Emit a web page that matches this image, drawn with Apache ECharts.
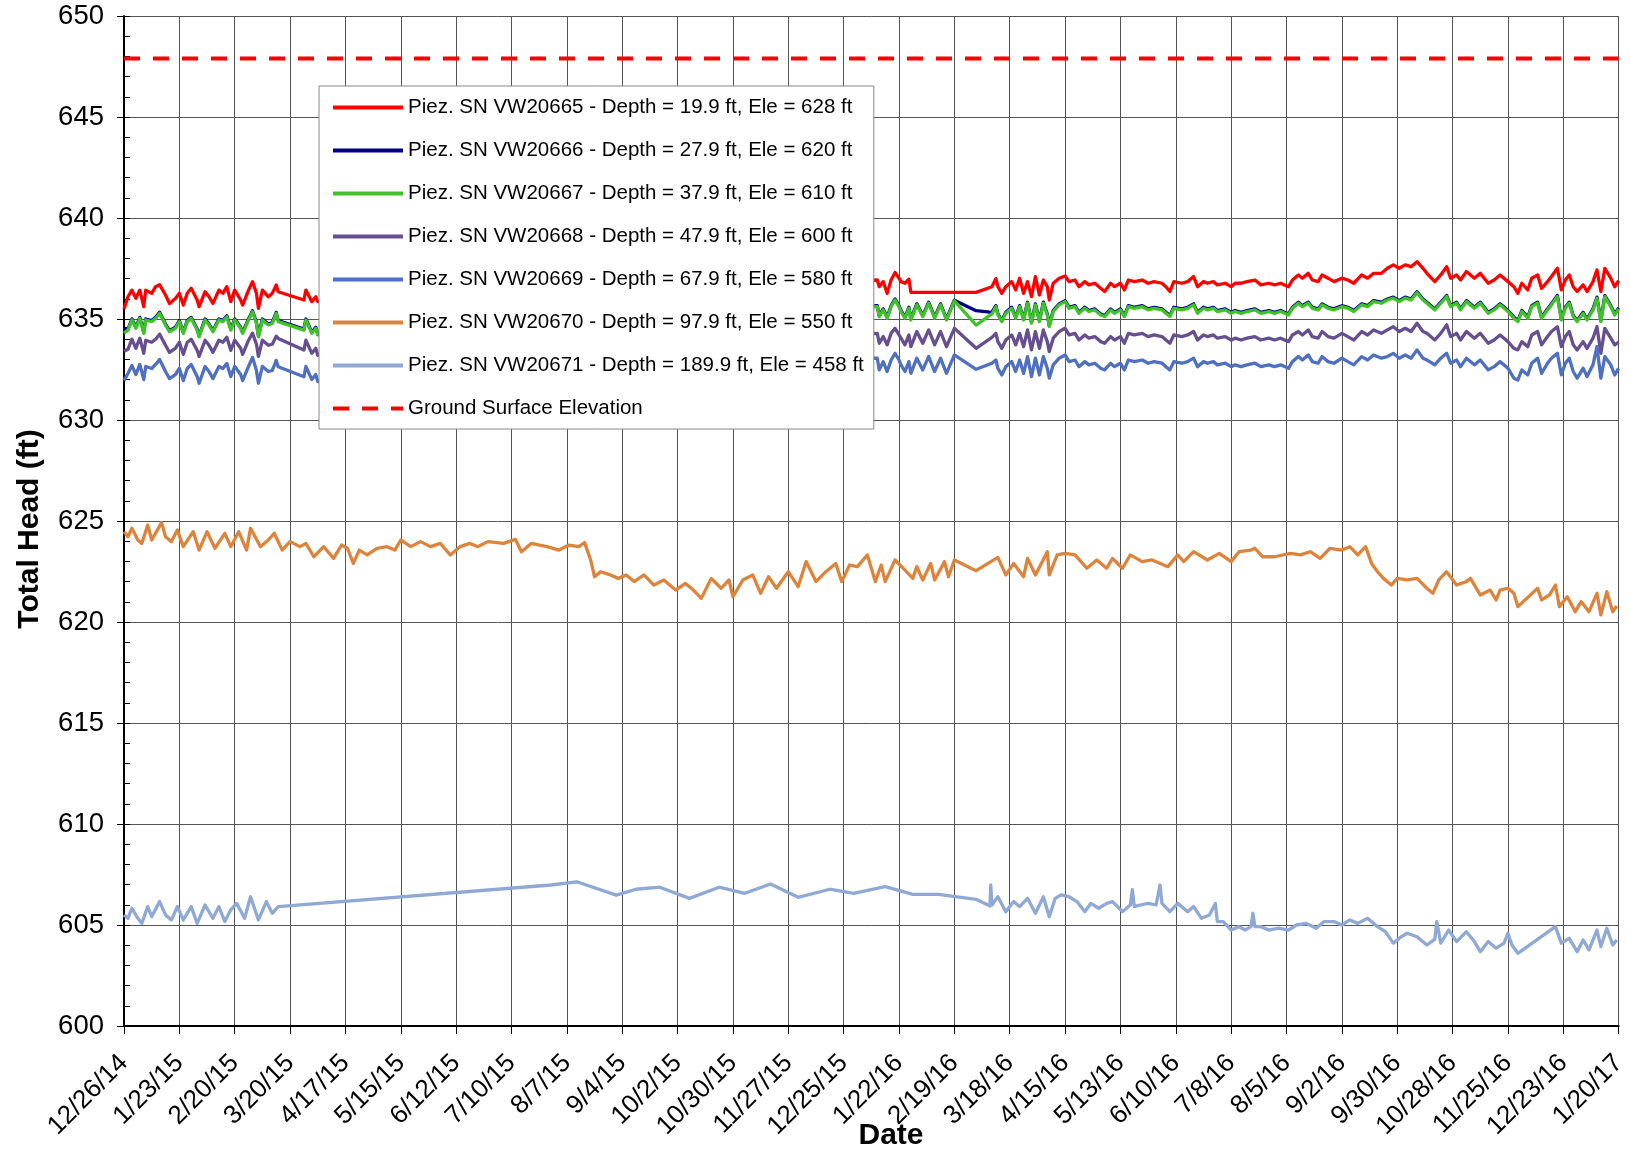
<!DOCTYPE html>
<html>
<head>
<meta charset="utf-8">
<script src="https://cdn.jsdelivr.net/npm/echarts@6/dist/echarts.min.js"></script>
<style>
html,body{margin:0;padding:0;background:#fff;}
#chart{width:1630px;height:1155px;}
</style>
</head>
<body>
<div id="chart"></div>
<script>
// ---- Axis / labels ----
const START_UTC = Date.UTC(2014, 11, 26); // day 0 = 12/26/14
const tickLabels = ['12/26/14','1/23/15','2/20/15','3/20/15','4/17/15','5/15/15','6/12/15','7/10/15','8/7/15','9/4/15','10/2/15','10/30/15','11/27/15','12/25/15','1/22/16','2/19/16','3/18/16','4/15/16','5/13/16','6/10/16','7/8/16','8/5/16','9/2/16','9/30/16','10/28/16','11/25/16','12/23/16','1/20/17'];
const seriesNames = [
  'Piez. SN VW20665 - Depth = 19.9 ft, Ele = 628 ft',
  'Piez. SN VW20666 - Depth = 27.9 ft, Ele = 620 ft',
  'Piez. SN VW20667 - Depth = 37.9 ft, Ele = 610 ft',
  'Piez. SN VW20668 - Depth = 47.9 ft, Ele = 600 ft',
  'Piez. SN VW20669 - Depth = 67.9 ft, Ele = 580 ft',
  'Piez. SN VW20670 - Depth = 97.9 ft, Ele = 550 ft',
  'Piez. SN VW20671 - Depth = 189.9 ft, Ele = 458 ft',
  'Ground Surface Elevation'
];
const groundElevation = 647.9;

// ---- Upper piezometers: shared reading days (days since 12/26/14) ----
const upperDays = [0,2,4,6,8,10,11,14,16,18,21,23,26,28,30,32,34,37,38,41,43,45,48,50,52,54,56,59,60,63,65,67,68,70,73,75,77,78,91,92,95,97,98,
381,382,384,386,388,390,392,393,395,397,398,401,404,407,410,413,416,420,431,439,
441,442,444,446,449,451,453,455,457,459,461,463,465,467,468,470,473,476,478,481,
483,486,488,491,494,496,499,501,504,506,508,511,515,518,521,525,527,529,531,535,
538,541,543,546,548,551,553,557,560,562,565,568,572,575,579,582,585,589,591,594,
596,599,601,604,606,609,612,616,619,622,626,629,632,636,639,642,645,648,651,654,
657,659,663,666,669,671,674,676,679,683,686,690,693,696,700,703,705,707,710,712,
715,717,720,722,725,727,729,731,733,735,738,740,743,745,747,749,752,754,756];

const vw20665 = [635.50,636.10,636.43,636.02,636.43,635.61,636.43,636.27,636.60,636.70,636.19,635.77,636.02,636.27,635.69,636.27,636.52,635.94,635.61,636.35,636.10,635.77,636.43,636.27,636.60,635.86,636.43,635.94,635.69,636.43,636.85,636.27,635.53,636.43,636.10,636.27,636.68,636.35,635.94,636.43,635.86,636.10,635.86,
636.93,636.60,636.85,636.27,636.93,637.30,637.02,636.85,636.77,636.97,636.32,null,null,null,null,null,null,null,636.32,636.60,
637.00,636.60,636.27,636.60,636.85,636.44,637.02,636.27,636.85,636.11,637.10,636.19,636.93,636.60,635.94,636.77,637.02,637.13,636.85,636.93,
636.60,636.85,636.69,636.77,636.52,636.36,636.77,636.60,636.77,636.44,636.93,636.85,636.93,636.77,636.85,636.77,636.60,636.36,636.85,636.77,
636.85,637.10,636.60,636.85,636.77,636.85,636.69,636.77,636.60,636.77,636.77,636.85,636.93,636.69,636.77,636.69,636.77,636.60,636.93,637.18,
637.02,637.26,636.93,636.85,637.18,637.02,636.85,637.02,636.93,636.77,637.18,637.02,637.26,637.26,637.51,637.68,637.51,637.68,637.59,637.84,
637.51,637.26,636.85,637.18,637.59,637.02,637.18,636.93,637.35,637.02,637.26,636.77,636.93,637.18,636.85,636.60,636.27,636.77,636.44,637.02,
637.18,636.52,636.85,637.10,637.51,636.44,636.93,637.18,636.60,636.36,636.69,636.36,636.85,637.43,636.36,637.51,637.02,636.60,636.90];

const vw20666 = [634.55,634.50,635.00,634.59,635.08,634.34,635.00,634.92,635.08,635.33,634.75,634.42,634.59,634.92,634.34,634.92,635.08,634.50,634.17,635.00,634.75,634.42,635.00,634.92,635.16,634.50,635.00,634.59,634.34,635.00,635.41,634.83,634.17,635.00,634.75,634.83,635.33,634.92,634.50,635.00,634.34,634.59,634.26,
635.66,635.17,635.50,635.09,635.66,635.99,635.66,635.42,635.09,635.58,635.00,635.75,635.17,635.83,635.09,635.75,635.00,635.93,635.41,635.33,
635.66,635.25,634.92,635.33,635.58,635.09,635.66,635.00,635.83,634.84,635.75,634.92,635.83,635.25,634.67,635.42,635.75,635.91,635.58,635.66,
635.33,635.58,635.42,635.50,635.25,635.17,635.50,635.33,635.50,635.17,635.66,635.58,635.66,635.50,635.58,635.50,635.33,635.17,635.58,635.50,
635.58,635.75,635.33,635.58,635.50,635.58,635.42,635.50,635.33,635.42,635.33,635.42,635.50,635.33,635.42,635.33,635.42,635.25,635.58,635.83,
635.66,635.83,635.58,635.50,635.75,635.58,635.50,635.66,635.58,635.42,635.75,635.66,635.91,635.83,635.99,636.08,635.91,636.08,635.99,636.35,
635.99,635.83,635.50,635.83,636.16,635.66,635.83,635.50,635.91,635.58,635.83,635.33,635.50,635.75,635.42,635.09,634.92,635.42,635.09,635.66,
635.83,635.09,635.50,635.75,636.16,635.00,635.58,635.83,635.17,634.92,635.33,635.00,635.50,636.08,634.92,636.16,635.66,635.25,635.55];

const vw20667 = [634.30,634.45,634.95,634.54,635.03,634.29,634.95,634.87,635.03,635.28,634.70,634.37,634.54,634.87,634.29,634.87,635.03,634.45,634.12,634.95,634.70,634.37,634.95,634.87,635.11,634.45,634.95,634.54,634.29,634.95,635.36,634.78,634.12,634.95,634.70,634.78,635.28,634.87,634.45,634.95,634.29,634.54,634.21,
635.61,635.12,635.45,635.04,635.61,635.94,635.61,635.37,635.04,635.53,634.95,635.70,635.12,635.78,635.04,635.70,634.95,635.90,634.70,635.25,
635.61,635.20,634.87,635.28,635.53,635.04,635.61,634.95,635.78,634.79,635.70,634.87,635.78,635.20,634.62,635.37,635.70,635.86,635.53,635.61,
635.28,635.53,635.37,635.45,635.20,635.12,635.45,635.28,635.45,635.12,635.61,635.53,635.61,635.45,635.53,635.45,635.28,635.12,635.53,635.45,
635.53,635.70,635.28,635.53,635.45,635.53,635.37,635.45,635.28,635.37,635.28,635.37,635.45,635.28,635.37,635.28,635.37,635.20,635.53,635.78,
635.61,635.78,635.53,635.45,635.70,635.53,635.45,635.61,635.53,635.37,635.70,635.61,635.86,635.78,635.94,636.03,635.86,636.03,635.94,636.30,
635.94,635.78,635.45,635.78,636.11,635.61,635.78,635.45,635.86,635.53,635.78,635.28,635.45,635.70,635.37,635.04,634.87,635.37,635.04,635.61,
635.78,635.04,635.45,635.70,636.11,634.95,635.53,635.78,635.12,634.87,635.28,634.95,635.45,636.03,634.87,636.11,635.61,635.20,635.50];

const vw20668 = [633.40,633.50,634.00,633.55,634.05,633.30,633.95,633.85,634.00,634.25,633.70,633.35,633.55,633.85,633.25,633.85,634.00,633.45,633.15,633.95,633.70,633.35,633.95,633.85,634.10,633.45,633.95,633.55,633.25,633.95,634.30,633.75,633.15,633.95,633.70,633.75,634.15,634.04,633.46,633.95,633.30,633.55,633.20,
634.29,633.80,634.13,633.72,634.29,634.54,634.21,634.05,633.72,634.21,633.63,634.38,633.80,634.46,633.72,634.38,633.63,634.54,633.55,634.09,
634.29,633.88,633.55,633.96,634.21,633.72,634.29,633.63,634.46,633.47,634.38,633.55,634.46,633.88,633.39,634.05,634.38,634.54,634.21,634.29,
633.96,634.21,634.05,634.13,633.88,633.80,634.13,633.96,634.13,633.80,634.29,634.21,634.29,634.13,634.21,634.13,633.96,633.80,634.21,634.13,
634.21,634.38,633.96,634.21,634.13,634.21,634.05,634.13,633.96,634.05,633.96,634.05,634.13,633.96,634.05,633.96,634.05,633.88,634.21,634.38,
634.21,634.46,634.13,634.05,634.38,634.13,634.05,634.29,634.13,633.96,634.38,634.21,634.46,634.29,634.46,634.62,634.38,634.54,634.38,634.79,
634.38,634.29,633.96,634.29,634.71,634.13,634.29,633.96,634.38,634.05,634.29,633.80,633.96,634.21,633.88,633.55,633.47,633.88,633.63,634.21,
634.38,633.72,634.13,634.38,634.62,633.63,634.13,634.38,633.72,633.47,633.88,633.55,634.05,634.62,633.30,634.54,634.05,633.72,633.85];

const vw20669 = [631.95,632.30,632.70,632.25,632.75,632.00,632.65,632.55,632.75,633.00,632.40,632.05,632.25,632.55,631.95,632.55,632.75,632.15,631.82,632.65,632.40,632.05,632.65,632.55,632.80,632.15,632.65,632.25,631.95,632.65,633.10,632.45,631.82,632.65,632.40,632.45,632.95,632.64,632.14,632.65,632.00,632.25,631.90,
633.06,632.48,632.89,632.40,632.97,633.30,632.97,632.73,632.40,632.89,632.31,633.06,632.48,633.14,632.40,633.06,632.31,633.22,632.51,632.81,
632.97,632.56,632.23,632.64,632.89,632.40,632.97,632.31,633.14,632.15,633.06,632.23,633.14,632.56,632.07,632.73,633.06,633.22,632.89,632.97,
632.64,632.89,632.73,632.81,632.56,632.48,632.81,632.64,632.81,632.48,632.97,632.89,632.97,632.81,632.89,632.81,632.64,632.48,632.89,632.81,
632.89,633.06,632.64,632.89,632.81,632.89,632.73,632.81,632.64,632.73,632.64,632.73,632.81,632.64,632.73,632.64,632.73,632.56,632.89,633.14,
632.97,633.22,632.89,632.81,633.14,632.89,632.81,633.06,632.89,632.73,633.14,632.97,633.22,633.06,633.14,633.30,633.06,633.22,633.06,633.47,
633.06,632.97,632.73,633.06,633.30,632.81,632.97,632.64,633.06,632.73,632.97,632.48,632.64,632.89,632.56,632.07,631.98,632.48,632.23,632.81,
633.06,632.31,632.81,633.06,633.30,632.23,632.81,633.06,632.40,632.07,632.56,632.15,632.73,633.63,632.07,633.14,632.73,632.23,632.56];

// ---- Deeper piezometers: [day, total head] ----
const vw20670 = [[0,624.47],[2,624.22],[4,624.64],[7,624.06],[9,623.89],[12,624.80],[14,624.06],[19,624.92],[21,624.22],[24,623.98],[27,624.55],[30,623.73],[35,624.47],[38,623.56],[42,624.47],[46,623.65],[51,624.39],[54,623.73],[58,624.47],[62,623.56],[64,624.64],[69,623.73],[73,624.06],[76,624.39],[80,623.56],[84,623.98],[89,623.73],[92,623.89],[96,623.23],[101,623.73],[106,623.15],[110,623.81],[113,623.65],[116,622.90],[119,623.56],[123,623.32],[128,623.65],[133,623.73],[137,623.56],[140,624.06],[145,623.73],[150,623.98],[155,623.73],[160,623.89],[165,623.32],[170,623.73],[175,623.89],[179,623.73],[184,623.98],[192,623.89],[198,624.09],[201,623.48],[206,623.89],[214,623.73],[220,623.56],[225,623.81],[230,623.73],[233,623.93],[236,623.07],[238,622.24],[241,622.49],[246,622.33],[250,622.16],[254,622.33],[258,622.00],[263,622.33],[268,621.83],[273,622.08],[279,621.58],[284,621.91],[288,621.58],[292,621.17],[297,622.16],[302,621.67],[306,622.08],[308,621.25],[313,622.08],[318,622.33],[322,621.42],[326,622.24],[330,621.67],[336,622.49],[341,621.75],[345,622.99],[350,622.00],[355,622.49],[360,622.90],[363,622.00],[367,622.82],[371,622.74],[376,623.32],[380,622.00],[383,622.82],[385,622.00],[390,623.07],[395,622.57],[399,622.16],[401,622.74],[404,622.08],[408,622.90],[410,622.08],[415,622.99],[417,622.24],[420,623.07],[431,622.54],[442,623.20],[446,622.33],[450,622.90],[455,622.24],[457,623.15],[461,622.33],[467,623.48],[468,622.33],[472,623.32],[476,623.40],[481,623.32],[487,622.66],[492,623.07],[497,622.66],[500,623.15],[505,622.66],[509,623.32],[515,622.99],[520,623.07],[528,622.74],[533,623.32],[536,622.99],[541,623.48],[548,623.07],[554,623.40],[560,622.99],[564,623.48],[570,623.56],[572,623.65],[576,623.23],[582,623.23],[590,623.40],[595,623.32],[600,623.48],[605,623.15],[610,623.65],[616,623.56],[620,623.73],[624,623.32],[628,623.73],[631,622.90],[634,622.49],[637,622.16],[641,621.83],[644,622.16],[649,622.08],[654,622.16],[659,621.67],[662,621.42],[665,622.08],[669,622.49],[674,621.83],[679,622.00],[681,622.16],[686,621.34],[691,621.58],[694,621.09],[696,621.58],[700,621.67],[703,621.42],[705,620.76],[715,621.67],[717,621.09],[721,621.34],[724,621.83],[726,620.76],[730,621.25],[734,620.51],[737,621.01],[741,620.51],[745,621.42],[747,620.35],[750,621.50],[753,620.51],[755,620.79]];

const vw20671 = [[0,605.50],[2,605.33],[4,605.83],[7,605.33],[9,605.08],[12,605.91],[14,605.41],[18,606.16],[21,605.50],[24,605.25],[27,605.91],[30,605.25],[34,605.91],[37,605.08],[41,605.99],[45,605.33],[48,605.91],[51,605.17],[54,605.75],[57,606.07],[61,605.33],[64,606.40],[68,605.25],[72,606.16],[75,605.58],[78,605.91],
[216,606.98],[229,607.14],[249,606.48],[259,606.77],[271,606.87],[286,606.32],[301,606.87],[314,606.57],[327,607.03],[341,606.37],[357,606.77],[369,606.57],[385,606.90],[399,606.52],[412,606.52],[431,606.27],
[438,605.94],[438.4,606.98],[439,605.99],[442,606.40],[446,605.66],[450,606.16],[453,605.91],[457,606.32],[461,605.58],[465,606.40],[468,605.41],[471,606.32],[474,606.49],[478,606.40],[482,606.16],[486,605.66],[489,606.07],[493,605.83],[497,606.07],[500,606.16],[505,605.66],[509,605.99],[510,606.75],[511,605.91],[514,605.99],[518,606.07],[522,605.99],[524,606.98],[525,606.07],[529,605.66],[533,606.07],[538,605.66],[541,605.91],[545,605.33],[549,605.50],[552,606.07],[553,605.17],[556,605.17],[560,604.75],[564,604.92],[567,604.75],[570,604.92],[571,605.58],[572,604.92],[575,604.92],[579,604.75],[584,604.84],[589,604.75],[593,605.00],[598,605.08],[603,604.84],[607,605.17],[612,605.17],[616,605.00],[620,605.25],[624,605.08],[629,605.33],[634,604.92],[638,604.67],[642,604.10],[646,604.42],[649,604.59],[654,604.42],[659,604.01],[663,604.30],[664,605.17],[666,604.10],[670,604.75],[674,604.18],[679,604.67],[683,604.18],[686,603.68],[690,604.18],[694,603.85],[698,604.10],[700,604.59],[702,604.01],[705,603.60],[724,604.92],[727,604.10],[731,604.34],[735,603.68],[738,604.26],[741,603.77],[745,604.75],[747,603.93],[750,604.84],[753,604.01],[755,604.26]];

const colors = ['#FF0000','#000080','#3FC22A','#664F8E','#4F70BF','#DD843C','#8FA9D4','#FF0000'];

// ---- build ----
const FONT = "'Liberation Sans', Arial, sans-serif";
function pairUp(days, vals){
  if (days.length !== vals.length) console.error('length mismatch', days.length, vals.length);
  const out = [];
  for (let i = 0; i < days.length; i++) if (vals[i] != null) out.push([days[i], vals[i]]);
  return out;
}
const upper = [vw20665, vw20666, vw20667, vw20668, vw20669].map(v => pairUp(upperDays, v));
const allData = [...upper, vw20670, vw20671];

const series = allData.map((d, i) => ({
  name: seriesNames[i], type: 'line', data: d, symbol: 'none', showSymbol: false,
  connectNulls: true, silent: true,
  lineStyle: { color: colors[i], width: 3.3, join: 'round' }, itemStyle: { color: colors[i] }
}));
series.push({
  name: seriesNames[7], type: 'line', symbol: 'none', showSymbol: false, silent: true,
  data: [[0, groundElevation], [756, groundElevation]],
  lineStyle: { color: colors[7], width: 4, type: [16, 13] }, itemStyle: { color: colors[7] }
});

const chart = echarts.init(document.getElementById('chart'), null, { renderer: 'canvas' });
chart.setOption({
  animation: false,
  backgroundColor: '#fff',
  textStyle: { fontFamily: FONT },
  grid: { left: 124, right: 8, top: 16, bottom: 129, containLabel: false },
  legend: {
    orient: 'vertical', left: 319, top: 86,
    padding: [11, 10, 10, 12],
    itemWidth: 70, itemHeight: 14, itemGap: 22,
    backgroundColor: '#fff', borderColor: '#888', borderWidth: 1,
    itemStyle: { opacity: 0 },
    lineStyle: { width: 4 },
    textStyle: { fontSize: 20.5, fontFamily: FONT, color: '#000', lineHeight: 20 },
    data: seriesNames, selectedMode: false
  },
  xAxis: {
    type: 'value', min: 0, max: 756, interval: 28,
    axisLine: { show: true, onZero: false, lineStyle: { color: '#000', width: 2 } },
    axisTick: { show: true, length: 8, lineStyle: { color: '#000', width: 1 } },
    splitLine: { show: true, lineStyle: { color: '#555', width: 1 } },
    axisLabel: {
      rotate: 45, fontSize: 26, color: '#000', fontFamily: FONT, margin: 33,
      formatter: v => tickLabels[Math.round(v / 28)] || ''
    }
  },
  yAxis: [{
    type: 'value', min: 600, max: 650, interval: 5,
    axisLine: { show: true, onZero: false, lineStyle: { color: '#000', width: 2 } },
    axisTick: { show: true, length: 7, lineStyle: { color: '#000', width: 1 } },
    splitLine: { show: true, lineStyle: { color: '#555', width: 1 } },
    axisLabel: { fontSize: 27.5, color: '#000', fontFamily: FONT, margin: 20 }
  }, {
    type: 'value', min: 600, max: 650, interval: 1, position: 'left',
    axisLine: { show: false }, splitLine: { show: false },
    axisTick: { show: true, inside: true, length: 6, lineStyle: { color: '#000', width: 1 } },
    axisLabel: { show: false }
  }],
  graphic: [
    { type: 'text', silent: true, style: { text: 'Date', x: 891, y: 1136, textAlign: 'center', textVerticalAlign: 'middle', verticalAlign: 'middle', font: 'bold 30px ' + FONT, fill: '#000' } },
    { type: 'text', silent: true, x: 30, y: 529, rotation: Math.PI / 2, style: { text: 'Total Head (ft)', x: 0, y: 0, textAlign: 'center', textVerticalAlign: 'middle', verticalAlign: 'middle', font: 'bold 30px ' + FONT, fill: '#000' } }
  ],
  series: series
});
</script>
</body>
</html>
